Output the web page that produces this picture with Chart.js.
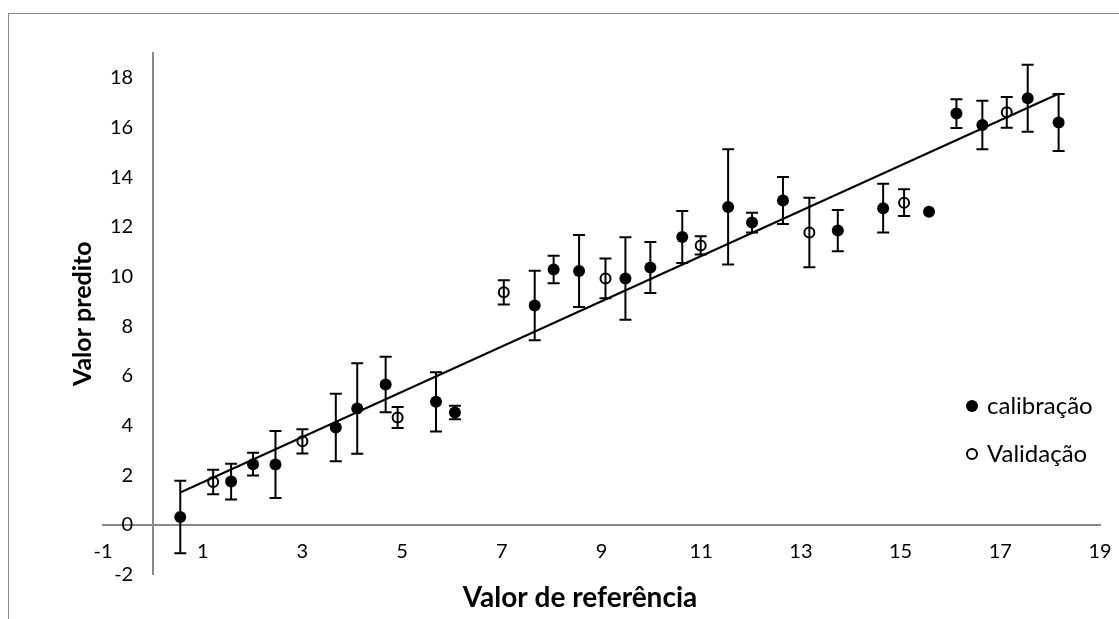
<!DOCTYPE html>
<html>
<head>
<meta charset="utf-8">
<title>Valor predito x Valor de referência</title>
<script src="https://cdn.jsdelivr.net/npm/chart.js@4.4.1/dist/chart.umd.min.js"></script>
<style>
  body { margin: 0; background: #fff; }
  #wrap { position: relative; width: 1119px; height: 619px; overflow: hidden; }
  #moldura { position: absolute; left: 8px; top: 13px; width: 2000px; height: 2000px;
             border-top: 1px solid #868686; border-left: 1px solid #868686; }
  canvas { position: absolute; left: 0; top: 0; }
</style>
</head>
<body>
<div id="wrap">
  <div id="moldura"></div>
  <canvas id="grafico" width="1119" height="619"></canvas>
</div>
<script>
// amostras de calibração: valor de referência, valor predito, desvio
const calX = [0.55, 1.57, 2.01, 2.46, 3.67, 4.10, 4.67, 5.68, 6.06, 7.66, 8.04, 8.55, 9.48,
              9.98, 10.62, 11.54, 12.02, 12.64, 13.74, 14.65, 15.57, 16.12, 16.64, 17.55, 18.17]
const calY = [0.31, 1.74, 2.44, 2.43, 3.92, 4.68, 5.65, 4.95, 4.52, 8.83, 10.28, 10.22, 9.92,
              10.36, 11.59, 12.80, 12.17, 13.06, 11.85, 12.75, 12.61, 16.56, 16.10, 17.18, 16.20]
const calErr = [1.46, 0.72, 0.46, 1.35, 1.36, 1.82, 1.12, 1.19, 0.27, 1.40, 0.55, 1.45, 1.66,
                1.03, 1.05, 2.32, 0.40, 0.95, 0.83, 0.98, 0, 0.58, 0.98, 1.35, 1.15]

// amostras de validação
const valX = [1.21, 3.00, 4.91, 7.04, 9.08, 10.99, 13.17, 15.07, 17.13]
const valY = [1.72, 3.36, 4.32, 9.36, 9.92, 11.25, 11.77, 12.97, 16.61]
const valErr = [0.49, 0.49, 0.42, 0.49, 0.80, 0.37, 1.40, 0.54, 0.62]

// reta de ajuste (extremos)
const fitX = [0.55, 18.17]
const fitY = [1.30, 17.36]

const xTicks = [-1, 1, 3, 5, 7, 9, 11, 13, 15, 17, 19]
const yTicks = [-2, 0, 2, 4, 6, 8, 10, 12, 14, 16, 18]

const FONTE = "Lato, 'Open Sans', sans-serif"
const CINZA = "#898989"

Chart.defaults.font.family = FONTE
Chart.defaults.color = "#000"

const pares = (xs, ys) => xs.map((x, i) => ({ x: x, y: ys[i] }))

// barras de erro verticais com traço nas pontas
const barrasErro = {
  id: "barrasErro",
  beforeDatasetsDraw(chart) {
    const ctx = chart.ctx
    const y = chart.scales.y
    ctx.save()
    ctx.strokeStyle = "#000"
    ctx.lineWidth = 2
    chart.data.datasets.forEach((ds, i) => {
      if (!ds.erros) return
      const meta = chart.getDatasetMeta(i)
      meta.data.forEach((pt, j) => {
        const e = ds.erros[j]
        if (!e) return
        const v = ds.data[j].y
        const topo = y.getPixelForValue(v + e)
        const base = y.getPixelForValue(v - e)
        ctx.beginPath()
        ctx.moveTo(pt.x, topo); ctx.lineTo(pt.x, base)
        ctx.moveTo(pt.x - 6, topo); ctx.lineTo(pt.x + 6, topo)
        ctx.moveTo(pt.x - 6, base); ctx.lineTo(pt.x + 6, base)
        ctx.stroke()
      })
    })
    ctx.restore()
  }
}

// legenda dentro da área do gráfico, à direita
const legenda = {
  id: "legenda",
  afterDraw(chart) {
    const { ctx, chartArea } = chart
    ctx.save()
    ctx.font = "24px " + FONTE
    ctx.textBaseline = "middle"
    ;[0, 1].forEach((i, k) => {
      const ds = chart.data.datasets[i]
      const cx = chartArea.right - 128
      const cy = chartArea.top + 353 + k * 48
      ctx.beginPath()
      ctx.arc(cx, cy, ds.pointRadius, 0, Math.PI * 2)
      if (ds.pointBorderWidth) {
        ctx.lineWidth = ds.pointBorderWidth
        ctx.strokeStyle = ds.pointBorderColor
        ctx.stroke()
      } else {
        ctx.fillStyle = ds.pointBackgroundColor
        ctx.fill()
      }
      ctx.fillStyle = "#000"
      ctx.fillText(ds.label, cx + 15, cy)
    })
    ctx.restore()
  }
}

new Chart(document.getElementById("grafico"), {
  type: "scatter",
  data: {
    datasets: [
      {
        label: "calibração",
        data: pares(calX, calY),
        erros: calErr,
        pointRadius: 6,
        pointBackgroundColor: "#000",
        pointBorderWidth: 0,
        pointBorderColor: "#000"
      },
      {
        label: "Validação",
        data: pares(valX, valY),
        erros: valErr,
        pointRadius: 5,
        pointBackgroundColor: "rgba(0,0,0,0)",
        pointBorderWidth: 2,
        pointBorderColor: "#000"
      },
      {
        label: "ajuste",
        data: pares(fitX, fitY),
        showLine: true,
        borderColor: "#000",
        borderWidth: 2,
        pointRadius: 0
      }
    ]
  },
  options: {
    responsive: false,
    animation: false,
    devicePixelRatio: 1,
    layout: { padding: { left: 60, right: 19, top: 53, bottom: 2 } },
    plugins: {
      legend: { display: false },
      tooltip: { enabled: false },
      title: {
        display: true,
        position: "bottom",
        text: "Valor de referência",
        color: "#000",
        font: { size: 28, weight: "bold", lineHeight: 1.2 },
        padding: { top: 7, bottom: 2 }
      }
    },
    scales: {
      x: {
        axis: "x",
        type: "linear",
        min: -1,
        max: 19,
        position: { y: 0 },
        grid: { display: false, drawTicks: false },
        border: { color: CINZA, width: 2 },
        afterBuildTicks: (s) => { s.ticks = xTicks.map((v) => ({ value: v })) },
        // o eixo fica sobre y = 0, sem ocupar espaço no layout
        afterFit: (s) => { s.height = 0; s.paddingLeft = 0; s.paddingRight = 0 },
        ticks: { autoSkip: false, maxRotation: 0, padding: 15, font: { size: 20 } }
      },
      y: {
        axis: "y",
        type: "linear",
        position: "left",
        min: -2,
        max: 19,
        grid: { display: false, drawTicks: false },
        border: { display: false },
        afterBuildTicks: (s) => { s.ticks = yTicks.map((v) => ({ value: v })) },
        afterFit: (s) => { s.width = 43 },
        ticks: { mirror: true, crossAlign: "far", padding: 7, font: { size: 20 } },
        title: {
          display: true,
          text: "Valor predito",
          color: "#000",
          font: { size: 25, weight: "bold", lineHeight: 1.2 },
          padding: { top: 8, bottom: 5 }
        }
      },
      // eixo vertical cruzando em x = 0
      yLinha: {
        axis: "y",
        type: "linear",
        position: { x: 0 },
        min: -2,
        max: 19,
        grid: { display: false, drawTicks: false },
        border: { color: CINZA, width: 2 },
        ticks: { display: false },
        afterFit: (s) => { s.width = 0 }
      }
    }
  },
  plugins: [barrasErro, legenda]
})
</script>
</body>
</html>
